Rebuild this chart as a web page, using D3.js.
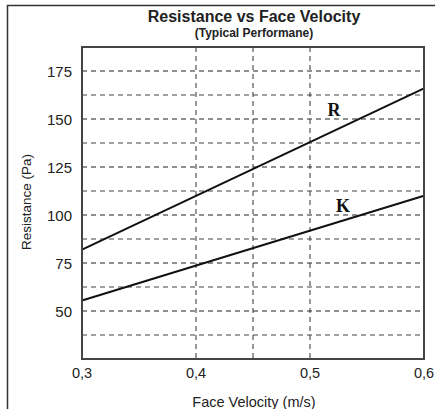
<!DOCTYPE html>
<html>
<head>
<meta charset="utf-8">
<script src="https://cdn.jsdelivr.net/npm/d3@7"></script>
<style>
  body { margin: 0; background: #fff; }
</style>
</head>
<body>
<div id="chart"></div>
<script>
// data
const velocity = [0.3, 0.6];
const seriesR = [82, 166];
const seriesK = [55.5, 110];
const seriesNames = ["R", "K"];
const xTicks = [0.3, 0.4, 0.5, 0.6];
const xGrid = [0.4, 0.45, 0.5];
const yTicks = [50, 75, 100, 125, 150, 175];
const yMinorGrid = [37.5, 62.5, 87.5, 112.5, 137.5, 162.5];

const width = 435, height = 409;
const plot = { left: 82, right: 424, top: 47, bottom: 359 };

const svg = d3.select("#chart").append("svg")
    .attr("width", width)
    .attr("height", height);

// outer frame
svg.append("path")
    .attr("d", `M7.5,${height} V5.5 H${width}`)
    .attr("fill", "none")
    .attr("stroke", "#333")
    .attr("stroke-width", 1.5);

const x = d3.scaleLinear().domain([0.3, 0.6]).range([plot.left, plot.right]);
const y = d3.scaleLinear().domain([25, 187.5]).range([plot.bottom, plot.top]);

// grid
svg.append("g").selectAll("line")
    .data(yTicks)
    .join("line")
    .attr("x1", plot.left).attr("x2", plot.right)
    .attr("y1", d => y(d)).attr("y2", d => y(d))
    .attr("stroke", "#222")
    .attr("stroke-width", 1)
    .attr("stroke-dasharray", "5,4");

svg.append("g").selectAll("line")
    .data(yMinorGrid)
    .join("line")
    .attr("x1", plot.left).attr("x2", plot.right)
    .attr("y1", d => y(d)).attr("y2", d => y(d))
    .attr("stroke", "#444")
    .attr("stroke-width", 1)
    .attr("stroke-dasharray", "5,4");

svg.append("g").selectAll("line")
    .data(xGrid)
    .join("line")
    .attr("x1", d => x(d)).attr("x2", d => x(d))
    .attr("y1", plot.top).attr("y2", plot.bottom)
    .attr("stroke", "#333")
    .attr("stroke-width", 1)
    .attr("stroke-dasharray", "5,4");

// series lines
const line = d3.line()
    .x((d, i) => x(velocity[i]))
    .y(d => y(d));

[seriesR, seriesK].forEach(s => {
    svg.append("path")
        .datum(s)
        .attr("d", line)
        .attr("fill", "none")
        .attr("stroke", "#111")
        .attr("stroke-width", 2);
});

// series labels
const labelPos = [[0.521, 154.5], [0.529, 104.5]];
svg.append("g").selectAll("text")
    .data(seriesNames)
    .join("text")
    .attr("x", (d, i) => x(labelPos[i][0]))
    .attr("y", (d, i) => y(labelPos[i][1]))
    .attr("text-anchor", "middle")
    .attr("dominant-baseline", "central")
    .attr("font-family", "Liberation Serif, Times New Roman, serif")
    .attr("font-weight", "bold")
    .attr("font-size", 18)
    .attr("fill", "#111")
    .text(d => d);

// plot border
svg.append("rect")
    .attr("x", plot.left)
    .attr("y", plot.top)
    .attr("width", plot.right - plot.left)
    .attr("height", plot.bottom - plot.top)
    .attr("fill", "none")
    .attr("stroke", "#444")
    .attr("stroke-width", 2);

// axes tick labels
const font = "Liberation Sans, Arial, Helvetica, sans-serif";
svg.append("g").selectAll("text")
    .data(yTicks)
    .join("text")
    .attr("x", plot.left - 10)
    .attr("y", d => y(d))
    .attr("text-anchor", "end")
    .attr("dominant-baseline", "central")
    .attr("font-family", font)
    .attr("font-size", 15)
    .attr("fill", "#222")
    .text(d => d);

svg.append("g").selectAll("text")
    .data(xTicks)
    .join("text")
    .attr("x", d => x(d))
    .attr("y", plot.bottom + 14)
    .attr("text-anchor", "middle")
    .attr("dominant-baseline", "central")
    .attr("font-family", font)
    .attr("font-size", 14.5)
    .attr("fill", "#222")
    .text(d => d3.format(".1f")(d).replace(".", ","));

// titles
svg.append("text")
    .attr("x", 254).attr("y", 22)
    .attr("text-anchor", "middle")
    .attr("font-family", font)
    .attr("font-weight", "bold")
    .attr("font-size", 16)
    .attr("fill", "#222")
    .text("Resistance vs Face Velocity");

svg.append("text")
    .attr("x", 254).attr("y", 37)
    .attr("text-anchor", "middle")
    .attr("font-family", font)
    .attr("font-weight", "bold")
    .attr("font-size", 12)
    .attr("fill", "#222")
    .text("(Typical Performane)");

svg.append("text")
    .attr("x", 254).attr("y", 402)
    .attr("text-anchor", "middle")
    .attr("dominant-baseline", "central")
    .attr("font-family", font)
    .attr("font-size", 14.5)
    .attr("fill", "#222")
    .text("Face Velocity (m/s)");

svg.append("text")
    .attr("transform", "translate(26,202) rotate(-90)")
    .attr("text-anchor", "middle")
    .attr("dominant-baseline", "central")
    .attr("font-family", font)
    .attr("font-size", 13.5)
    .attr("fill", "#222")
    .text("Resistance (Pa)");
</script>
</body>
</html>
